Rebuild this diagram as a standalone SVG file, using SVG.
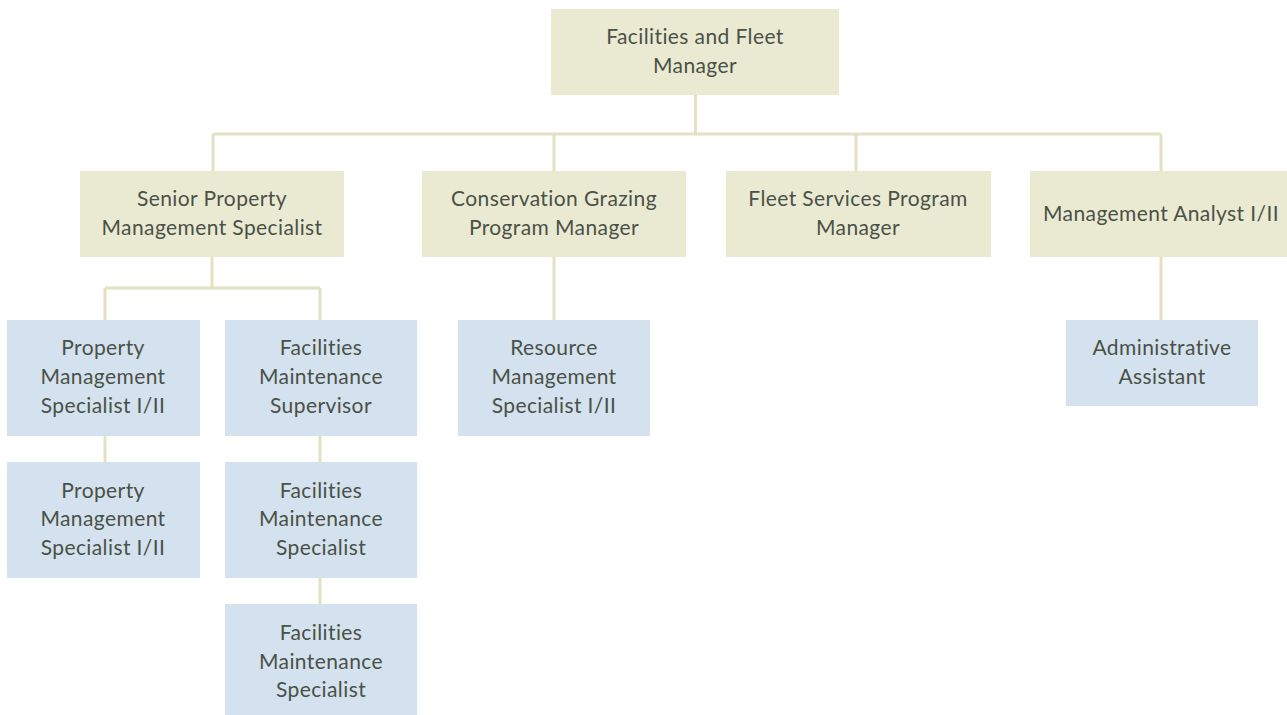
<svg xmlns="http://www.w3.org/2000/svg" width="1287" height="715" viewBox="0 0 1287 715">
<style>
.b1{fill:#eaead3}
.b2{fill:#d4e1ee}
text{font-family:Lato,"Liberation Sans",sans-serif;font-size:21px;letter-spacing:0.4px;fill:#4a5146;text-anchor:middle}
.c{stroke:#e2e2c2;stroke-width:3;fill:none}
</style>
<rect width="1287" height="715" fill="#ffffff"/>
<g id="connectors">
<path class="c" d="M695.5 95V134M213 134H1161M213 134V171M554 134V171M856 134V171M1161 134V171"/>
<path class="c" d="M212 257V288M105 288H320M105 288V320M320 288V320"/>
<path class="c" d="M554 257V320M1161 257V320"/>
<path class="c" d="M105 436V462M320 436V462M320 578V604"/>
</g>
<g id="n-ffm"><rect class="b1" x="551" y="9" width="288" height="86"/><text x="695" y="44">Facilities and Fleet</text><text x="695" y="73">Manager</text></g>
<g id="n-spms"><rect class="b1" x="80" y="171" width="264" height="86"/><text x="212" y="206">Senior Property</text><text x="212" y="235">Management Specialist</text></g>
<g id="n-cgpm"><rect class="b1" x="422" y="171" width="264" height="86"/><text x="554" y="206">Conservation Grazing</text><text x="554" y="235">Program Manager</text></g>
<g id="n-fspm"><rect class="b1" x="726" y="171" width="265" height="86"/><text x="858" y="206">Fleet Services Program</text><text x="858" y="235">Manager</text></g>
<g id="n-ma"><rect class="b1" x="1030" y="171" width="257" height="86"/><text x="1161" y="221">Management Analyst I/II</text></g>
<g id="n-pms1"><rect class="b2" x="7" y="320" width="193" height="116"/><text x="103" y="355">Property</text><text x="103" y="384">Management</text><text x="103" y="413">Specialist I/II</text></g>
<g id="n-fms"><rect class="b2" x="225" y="320" width="192" height="116"/><text x="321" y="355">Facilities</text><text x="321" y="384">Maintenance</text><text x="321" y="413">Supervisor</text></g>
<g id="n-rms"><rect class="b2" x="458" y="320" width="192" height="116"/><text x="554" y="355">Resource</text><text x="554" y="384">Management</text><text x="554" y="413">Specialist I/II</text></g>
<g id="n-aa"><rect class="b2" x="1066" y="320" width="192" height="86"/><text x="1162" y="355">Administrative</text><text x="1162" y="384">Assistant</text></g>
<g id="n-pms2"><rect class="b2" x="7" y="462" width="193" height="116"/><text x="103" y="498">Property</text><text x="103" y="526">Management</text><text x="103" y="555">Specialist I/II</text></g>
<g id="n-fmsp1"><rect class="b2" x="225" y="462" width="192" height="116"/><text x="321" y="498">Facilities</text><text x="321" y="526">Maintenance</text><text x="321" y="555">Specialist</text></g>
<g id="n-fmsp2"><rect class="b2" x="225" y="604" width="192" height="116"/><text x="321" y="640">Facilities</text><text x="321" y="669">Maintenance</text><text x="321" y="697">Specialist</text></g>
</svg>
